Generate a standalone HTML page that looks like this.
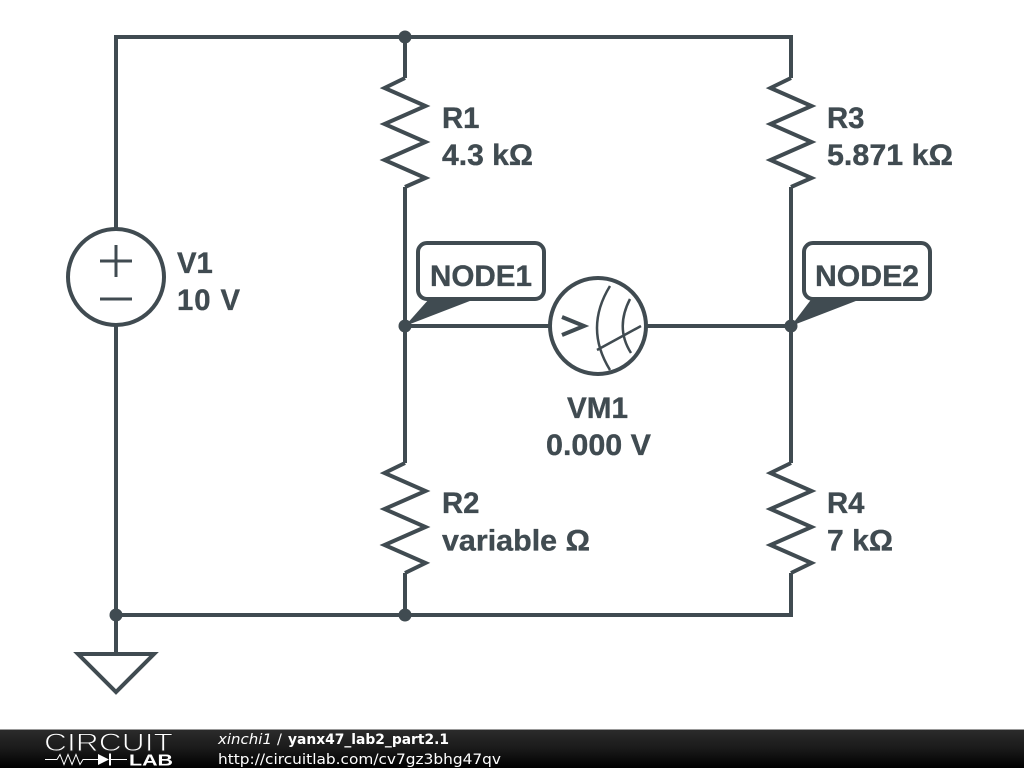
<!DOCTYPE html>
<html>
<head>
<meta charset="utf-8">
<style>
html,body{margin:0;padding:0;background:#fff;width:1024px;height:768px;overflow:hidden}
svg{display:block}
.l{font-family:"Liberation Sans",sans-serif;font-weight:bold;font-size:29.3px;fill:#404b51;stroke:#404b51;stroke-width:.35}
.w{fill:none;stroke:#404b51;stroke-width:4;stroke-linejoin:miter;stroke-linecap:butt}
.f{font-family:"DejaVu Sans",sans-serif;font-size:14.5px;fill:#fff}
</style>
</head>
<body>
<svg width="1024" height="768" viewBox="0 0 1024 768" xmlns="http://www.w3.org/2000/svg">
<defs>
<linearGradient id="g" x1="0" y1="0" x2="0" y2="1">
<stop offset="0" stop-color="#2c2c2c"/>
<stop offset="0.5" stop-color="#1a1a1a"/>
<stop offset="1" stop-color="#000"/>
</linearGradient>
</defs>
<rect width="1024" height="768" fill="#fff"/>

<!-- wires -->
<path class="w" d="M116 229V37H791V78M116 325V654M116 615H791V573M405 37V78M405 187V463M405 573V615M791 187V463M405 326H550M646 326H791"/>

<!-- resistors -->
<path class="w" d="M405 78L384.500 88L425.500 106L384.500 124L425.500 142L384.500 160L425.500 178L405 187"/>
<path class="w" d="M791 78L770.500 88L811.500 106L770.500 124L811.500 142L770.500 160L811.500 178L791 187"/>
<path class="w" d="M405 463L384.500 473L425.500 491L384.500 509L425.500 527L384.500 545L425.500 563L405 573"/>
<path class="w" d="M791 463L770.500 473L811.500 491L770.500 509L811.500 527L770.500 545L811.500 563L791 573"/>

<!-- V1 -->
<circle class="w" cx="116" cy="277" r="48"/>
<path d="M100 261H132M116 245V277M100 299H132" fill="none" stroke="#404b51" stroke-width="3"/>

<!-- VM1 -->
<circle class="w" cx="598" cy="326" r="48"/>
<path d="M562 317L584 326L562 335" fill="none" stroke="#404b51" stroke-width="4"/>
<path d="M610 286Q584 328 610 370M630 299Q615 328 631 353M597 350L641 326" fill="none" stroke="#404b51" stroke-width="2.5"/>

<!-- ground -->
<path class="w" d="M78 654H154L116 692Z"/>

<!-- dots -->
<g fill="#404b51">
<circle cx="405" cy="37" r="6.5"/>
<circle cx="116" cy="615" r="6.5"/>
<circle cx="405" cy="615" r="6.5"/>
<circle cx="405" cy="326" r="6.5"/>
<circle cx="791" cy="326" r="6.5"/>
<polygon points="405,326 429,299 475,299"/>
<polygon points="791,326 811.5,299 861,299"/>
</g>

<!-- node labels -->
<rect class="w" x="418" y="243" width="126" height="56" rx="9" ry="9" style="fill:#fff"/>
<rect class="w" x="804" y="243" width="126" height="56" rx="9" ry="9" style="fill:#fff"/>
<text class="l" x="430" y="286" textLength="102" lengthAdjust="spacingAndGlyphs">NODE1</text>
<text class="l" x="815" y="286" textLength="104" lengthAdjust="spacingAndGlyphs">NODE2</text>

<!-- labels -->
<text class="l" x="177" y="273">V1</text>
<text class="l" x="177" y="310" textLength="63" lengthAdjust="spacing">10 V</text>
<text class="l" x="442" y="128">R1</text>
<text class="l" x="442" y="165" textLength="91" lengthAdjust="spacingAndGlyphs">4.3 kΩ</text>
<text class="l" x="827" y="128">R3</text>
<text class="l" x="827" y="165" textLength="126" lengthAdjust="spacingAndGlyphs">5.871 kΩ</text>
<text class="l" x="442" y="513">R2</text>
<text class="l" x="442" y="550.5" textLength="148" lengthAdjust="spacingAndGlyphs">variable Ω</text>
<text class="l" x="827" y="513">R4</text>
<text class="l" x="827" y="550.5" textLength="66" lengthAdjust="spacingAndGlyphs">7 kΩ</text>
<text class="l" x="567" y="418" textLength="61" lengthAdjust="spacingAndGlyphs">VM1</text>
<text class="l" x="546" y="455" textLength="105" lengthAdjust="spacingAndGlyphs">0.000 V</text>

<!-- footer -->
<rect x="0" y="729" width="1024" height="39" fill="url(#g)"/>
<rect x="0" y="729" width="1024" height="1" fill="#999"/>
<text x="44" y="751" font-family="'Liberation Sans',sans-serif" font-size="25" fill="#fff" stroke="#222" stroke-width="0.9" textLength="129" lengthAdjust="spacingAndGlyphs">CIRCUIT</text>
<path d="M45 759.500H57L60 754.500L64 764.500L68 754.500L72 764.500L76 754.500L80 764.500L83 759.500H98M111 759.500H127" fill="none" stroke="#fff" stroke-width="1"/>
<polygon points="98,754 98,765 109,759.500" fill="#fff"/>
<rect x="109" y="753.500" width="2" height="12" fill="#fff"/>
<text x="129" y="765.500" font-family="'Liberation Sans',sans-serif" font-weight="bold" font-size="16" fill="#fff" textLength="44" lengthAdjust="spacingAndGlyphs">LAB</text>
<text class="f" x="218" y="744" font-style="italic" textLength="54" lengthAdjust="spacingAndGlyphs">xinchi1</text>
<text class="f" x="277" y="744">/</text>
<text class="f" x="288" y="744" font-weight="bold" textLength="161" lengthAdjust="spacingAndGlyphs">yanx47_lab2_part2.1</text>
<text class="f" x="218" y="764" textLength="283" lengthAdjust="spacingAndGlyphs">http://circuitlab.com/cv7gz3bhg47qv</text>
</svg>
</body>
</html>
